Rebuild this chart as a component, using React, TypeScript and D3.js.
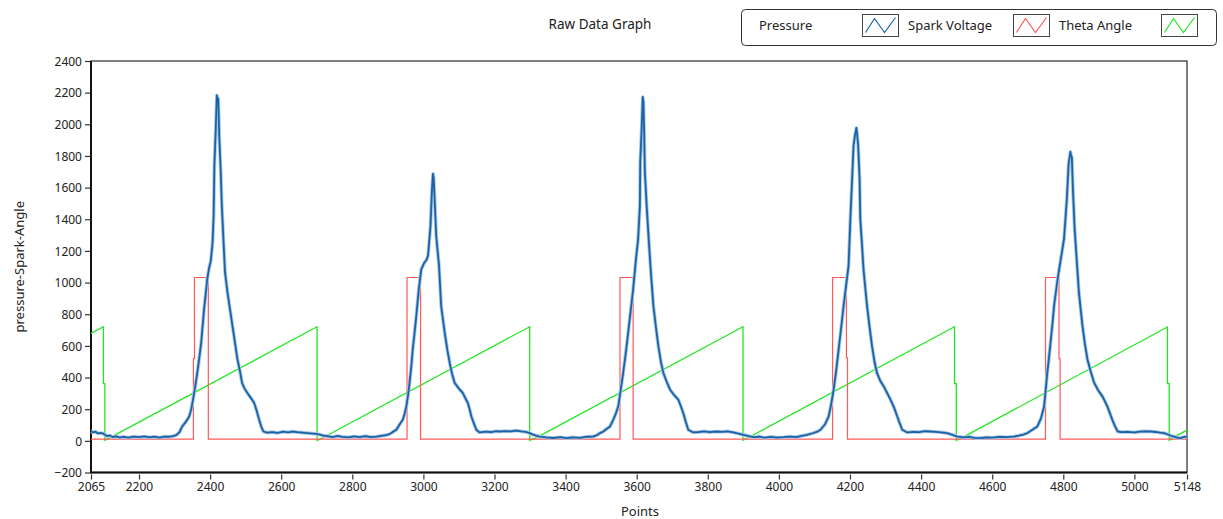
import React, { useEffect, useRef } from 'react';
import * as d3 from 'd3';

// Pressure trace, [point, value]
const pressureData: [number, number][] = [
  [2065, 59], [2072, 54], [2078, 58], [2085, 47], [2092, 50], [2099, 46], [2104, 38], [2110, 30], [2118, 34],
  [2126, 24], [2135, 28], [2145, 22], [2158, 25], [2170, 20], [2185, 27], [2200, 24], [2215, 28], [2230, 22],
  [2243, 26], [2258, 21], [2272, 27], [2285, 26], [2296, 30], [2305, 36], [2314, 55], [2321, 89], [2331, 118],
  [2341, 152], [2347, 200], [2352, 260], [2358, 340], [2364, 431], [2370, 530], [2375, 621], [2383, 831],
  [2392, 1021], [2397, 1090], [2402, 1137], [2407, 1255], [2410, 1422], [2412, 1739], [2416, 1972], [2419, 2183],
  [2421, 2150], [2423, 2162], [2426, 1909], [2430, 1699], [2433, 1486], [2437, 1296], [2442, 1065], [2449, 937],
  [2456, 830], [2463, 725], [2470, 620], [2477, 514], [2484, 440], [2490, 366], [2497, 330], [2505, 302],
  [2515, 270], [2524, 239], [2531, 190], [2538, 133], [2544, 90], [2550, 59], [2560, 52], [2575, 55], [2590, 50],
  [2605, 58], [2620, 54], [2631, 59], [2645, 55], [2660, 52], [2674, 49], [2688, 46], [2699, 44], [2708, 40],
  [2716, 34], [2730, 30], [2745, 24], [2758, 31], [2772, 25], [2790, 22], [2805, 28], [2820, 24], [2838, 30],
  [2852, 23], [2868, 27], [2882, 32], [2895, 36], [2906, 44], [2913, 55], [2924, 70], [2932, 100], [2942, 133],
  [2947, 170], [2952, 217], [2957, 290], [2961, 366], [2966, 470], [2970, 577], [2975, 680], [2980, 788],
  [2987, 957], [2994, 1084], [3003, 1127], [3008, 1140], [3013, 1169], [3017, 1275], [3020, 1359], [3023, 1528],
  [3025, 1620], [3027, 1687], [3029, 1660], [3032, 1509], [3036, 1296], [3040, 1200], [3044, 1105], [3050, 852],
  [3060, 683], [3067, 580], [3074, 493], [3081, 420], [3088, 366], [3100, 330], [3111, 302], [3118, 270],
  [3125, 239], [3130, 200], [3135, 154], [3142, 110], [3149, 70], [3158, 53], [3175, 58], [3190, 55], [3205, 61],
  [3215, 59], [3230, 62], [3245, 60], [3262, 65], [3275, 60], [3288, 56], [3299, 49], [3310, 38], [3327, 27],
  [3345, 22], [3365, 18], [3385, 23], [3403, 17], [3420, 22], [3440, 19], [3460, 26], [3477, 27], [3490, 38],
  [3497, 49], [3506, 59], [3515, 75], [3525, 91], [3534, 133], [3541, 170], [3548, 217], [3555, 320], [3562, 429],
  [3569, 550], [3576, 683], [3583, 820], [3590, 957], [3598, 1148], [3604, 1275], [3609, 1486], [3610, 1763],
  [3614, 1972], [3617, 2173], [3619, 2140], [3621, 1951], [3623, 1699], [3628, 1486], [3635, 1232], [3640, 1063],
  [3647, 852], [3654, 720], [3661, 598], [3668, 500], [3675, 429], [3685, 370], [3694, 323], [3705, 290],
  [3717, 260], [3724, 220], [3731, 176], [3738, 120], [3745, 70], [3759, 53], [3775, 56], [3790, 60], [3805, 55],
  [3825, 59], [3840, 57], [3855, 60], [3872, 53], [3886, 46], [3900, 38], [3915, 30], [3929, 23], [3945, 26],
  [3960, 20], [3978, 25], [3995, 21], [4013, 23], [4030, 27], [4048, 24], [4065, 32], [4079, 38], [4095, 48],
  [4108, 58], [4117, 70], [4130, 105], [4140, 154], [4147, 230], [4154, 323], [4161, 440], [4168, 577],
  [4175, 710], [4182, 852], [4190, 1000], [4196, 1105], [4201, 1401], [4206, 1655], [4210, 1866], [4214, 1930],
  [4218, 1977], [4220, 1940], [4223, 1866], [4227, 1655], [4229, 1401], [4234, 1232], [4238, 1084], [4248, 852],
  [4255, 720], [4262, 598], [4269, 500], [4276, 429], [4285, 380], [4295, 344], [4305, 300], [4314, 260],
  [4324, 210], [4333, 154], [4340, 110], [4347, 70], [4361, 53], [4378, 57], [4395, 55], [4410, 61], [4426, 59],
  [4440, 57], [4456, 54], [4473, 49], [4488, 38], [4502, 27], [4520, 22], [4535, 25], [4550, 19], [4567, 17],
  [4585, 22], [4600, 20], [4620, 25], [4640, 23], [4661, 27], [4675, 33], [4688, 40], [4699, 49], [4712, 68],
  [4727, 91], [4737, 140], [4746, 217], [4750, 310], [4755, 429], [4760, 530], [4765, 640], [4770, 750],
  [4774, 852], [4784, 1021], [4793, 1148], [4802, 1275], [4806, 1400], [4810, 1528], [4815, 1750], [4820, 1826],
  [4822, 1800], [4824, 1795], [4827, 1592], [4832, 1338], [4838, 1135], [4844, 937], [4849, 830], [4854, 725],
  [4861, 610], [4868, 514], [4877, 440], [4887, 366], [4898, 320], [4910, 281], [4917, 250], [4924, 217],
  [4931, 175], [4938, 133], [4945, 95], [4953, 59], [4965, 55], [4980, 57], [5000, 53], [5015, 58], [5030, 60],
  [5046, 59], [5060, 56], [5072, 52], [5084, 49], [5094, 40], [5103, 32], [5112, 26], [5120, 21], [5130, 17],
  [5138, 24], [5148, 27],
];

// Spark voltage (step trace)
const sparkData: [number, number][] = [
  [2065, 11], [2353, 11], [2353, 520], [2356, 520], [2356, 1032], [2395, 1032], [2395, 11],
  [2954, 11], [2954, 1032], [2992, 1032], [2992, 11],
  [3553, 11], [3553, 1032], [3590, 1032], [3590, 11],
  [4151, 11], [4151, 1032], [4190, 1032], [4190, 524], [4193, 524], [4193, 11],
  [4750, 11], [4750, 1032], [4788, 1032], [4788, 520], [4791, 520], [4791, 11], [5148, 11],
];

// Theta angle (sawtooth)
const thetaData: [number, number][] = [
  [2065, 679], [2100, 721], [2100, 361], [2104, 361], [2104, 4], [2112, 12],
  [2701, 721], [2701, 2], [2716, 18],
  [3299, 721], [3299, 4], [3314, 16],
  [3899, 721], [3899, 4], [3912, 18],
  [4494, 721], [4494, 361], [4499, 361], [4499, 4], [4512, 16],
  [5093, 719], [5093, 361], [5098, 361], [5098, 4], [5110, 22], [5148, 68],
];

const xTicks = [2065, 2200, 2400, 2600, 2800, 3000, 3200, 3400, 3600, 3800, 4000, 4200, 4400, 4600, 4800, 5000, 5148];
const yTicks = [-200, 0, 200, 400, 600, 800, 1000, 1200, 1400, 1600, 1800, 2000, 2200, 2400];

const legendItems = [
  { label: 'Pressure', color: '#1b62a5' },
  { label: 'Spark Voltage', color: '#ff5a5a' },
  { label: 'Theta Angle', color: '#22e622' },
];

const FONT = '"Noto Sans", "Open Sans", sans-serif';

const App = () => {
  const svgRef = useRef<SVGSVGElement>(null);

  useEffect(() => {
    const width = 1223;
    const height = 519;
    const margin = { top: 61, right: 36, bottom: 46.5, left: 91 };

    const svg = d3.select(svgRef.current)
      .attr('width', width)
      .attr('height', height)
      .style('background', '#ffffff');
    svg.selectAll('*').remove();

    const xScale = d3.scaleLinear()
      .domain([2065, 5148])
      .range([margin.left, width - margin.right]);

    const yScale = d3.scaleLinear()
      .domain([-200, 2400])
      .range([height - margin.bottom, margin.top]);

    // title
    svg.append('text')
      .attr('x', 600)
      .attr('y', 29)
      .attr('text-anchor', 'middle')
      .attr('font-family', FONT)
      .attr('font-size', 13.5)
      .attr('fill', '#222')
      .text('Raw Data Graph');

    // legend
    const legend = svg.append('g');
    legend.append('rect')
      .attr('x', 741.5)
      .attr('y', 9.5)
      .attr('width', 475)
      .attr('height', 36)
      .attr('rx', 4)
      .attr('fill', '#fff')
      .attr('stroke', '#333')
      .attr('stroke-width', 1);

    const labelX = [759, 908, 1059];
    const swatchX = [862, 1013, 1161];
    legendItems.forEach((item, i) => {
      legend.append('text')
        .attr('x', labelX[i])
        .attr('y', 30)
        .attr('font-family', FONT)
        .attr('font-size', 13)
        .attr('fill', '#222')
        .text(item.label);
      const sx = swatchX[i] + 0.5;
      const sy = 14.5;
      legend.append('rect')
        .attr('x', sx)
        .attr('y', sy)
        .attr('width', 36)
        .attr('height', 22)
        .attr('fill', '#fff')
        .attr('stroke', '#444')
        .attr('stroke-width', 1);
      legend.append('path')
        .attr('d', `M${sx + 3},${sy + 18} L${sx + 12},${sy + 4} L${sx + 22},${sy + 18} L${sx + 33},${sy + 3}`)
        .attr('fill', 'none')
        .attr('stroke', item.color)
        .attr('stroke-width', 1.2);
    });

    // axes
    const xAxis = d3.axisBottom(xScale).tickValues(xTicks).tickFormat(d3.format('d')).tickSize(5).tickSizeOuter(0);
    const yAxis = d3.axisLeft(yScale).tickValues(yTicks).tickFormat(d3.format('d')).tickSize(5).tickSizeOuter(0);

    const gx = svg.append('g')
      .attr('transform', `translate(0, ${height - margin.bottom + 2})`)
      .call(xAxis);
    const gy = svg.append('g')
      .attr('transform', `translate(${margin.left - 1}, 0)`)
      .call(yAxis);

    [gx, gy].forEach(g => {
      g.select('.domain').remove();
      g.selectAll('.tick line').attr('stroke', '#333').attr('stroke-width', 1.2);
      g.selectAll('.tick text')
        .attr('font-family', FONT)
        .attr('font-size', 12)
        .attr('fill', '#222');
    });
    gy.selectAll('.tick text').attr('dy', '0.36em');

    // plot frame
    svg.append('rect')
      .attr('x', margin.left)
      .attr('y', margin.top)
      .attr('width', width - margin.left - margin.right)
      .attr('height', height - margin.top - margin.bottom)
      .attr('fill', 'none')
      .attr('stroke', '#555')
      .attr('stroke-width', 1.5);

    svg.append('line')
      .attr('x1', margin.left).attr('x2', margin.left)
      .attr('y1', margin.top).attr('y2', height - margin.bottom + 1)
      .attr('stroke', '#111').attr('stroke-width', 2);
    svg.append('line')
      .attr('x1', margin.left).attr('x2', width - margin.right)
      .attr('y1', height - margin.bottom).attr('y2', height - margin.bottom)
      .attr('stroke', '#111').attr('stroke-width', 2);

    const plot = svg.append('g');

    const line = d3.line<[number, number]>()
      .x(d => xScale(d[0]))
      .y(d => yScale(d[1]));

    plot.append('path')
      .datum(thetaData)
      .attr('fill', 'none')
      .attr('stroke', '#22e622')
      .attr('stroke-width', 1.3)
      .attr('d', line);

    plot.append('path')
      .datum(sparkData)
      .attr('fill', 'none')
      .attr('stroke', '#ff5a5a')
      .attr('stroke-width', 1.2)
      .attr('d', line);

    // soft halo under the pressure trace
    plot.append('path')
      .datum(pressureData)
      .attr('fill', 'none')
      .attr('stroke', '#a9c8e6')
      .attr('stroke-width', 3.6)
      .attr('stroke-linejoin', 'round')
      .attr('d', line);

    plot.append('path')
      .datum(pressureData)
      .attr('fill', 'none')
      .attr('stroke', '#1b62a5')
      .attr('stroke-width', 1.8)
      .attr('stroke-linejoin', 'round')
      .attr('d', line);

    // axis titles
    svg.append('text')
      .attr('x', 640)
      .attr('y', 516)
      .attr('text-anchor', 'middle')
      .attr('font-family', FONT)
      .attr('font-size', 13)
      .attr('fill', '#222')
      .text('Points');

    svg.append('text')
      .attr('transform', `translate(24, ${(margin.top + height - margin.bottom) / 2}) rotate(-90)`)
      .attr('text-anchor', 'middle')
      .attr('font-family', FONT)
      .attr('font-size', 13)
      .attr('fill', '#222')
      .text('pressure-Spark-Angle');
  }, []);

  return (
    <svg ref={svgRef} style={{ position: 'absolute', left: 0, top: 0 }}></svg>
  );
};

export default App;
